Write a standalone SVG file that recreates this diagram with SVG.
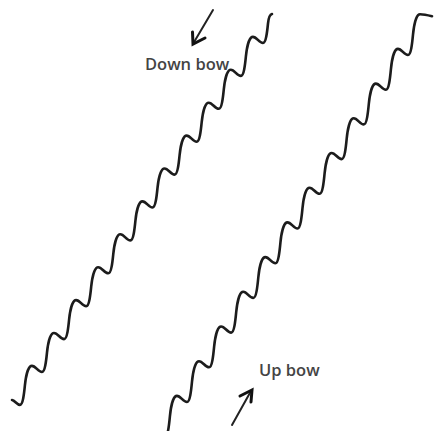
<svg xmlns="http://www.w3.org/2000/svg" width="437" height="431" viewBox="0 0 437 431">
<style>
.wave{fill:none;stroke:#1c1c1c;stroke-width:2.6;stroke-linecap:round;stroke-linejoin:round}
.shaft{fill:none;stroke:#222;stroke-width:2;stroke-linecap:round}
.head{fill:none;stroke:#111;stroke-width:3;stroke-linecap:round;stroke-linejoin:miter}
.lbl{font-family:"Open Sans","Liberation Sans",sans-serif;font-size:16.5px;font-weight:600;fill:#444}
</style>
<rect width="437" height="431" fill="#fff"/>
<g id="down-bow-string">
<path class="wave" d="M 12,400 C 15,400.5 17,404.9 19.9,404.9 c 3,0 4.2,-11.5 5,-19.5 c 0.8,-8 3,-19.5 7,-19.5 c 4,0 6,6.1 10.1,6.1 c 3,0 4.2,-11.5 5,-19.5 c 0.8,-8 3,-19.5 7,-19.5 c 4,0 6,6.1 10.1,6.1 c 3,0 4.2,-11.5 5,-19.5 c 0.8,-8 3,-19.5 7,-19.5 c 4,0 6,6.1 10.1,6.1 c 3,0 4.2,-11.5 5,-19.5 c 0.8,-8 3,-19.5 7,-19.5 c 4,0 6,6.1 10.1,6.1 c 3,0 4.2,-11.5 5,-19.5 c 0.8,-8 3,-19.5 7,-19.5 c 4,0 6,6.1 10.1,6.1 c 3,0 4.2,-11.5 5,-19.5 c 0.8,-8 3,-19.5 7,-19.5 c 4,0 6,6.1 10.1,6.1 c 3,0 4.2,-11.5 5,-19.5 c 0.8,-8 3,-19.5 7,-19.5 c 4,0 6,6.1 10.1,6.1 c 3,0 4.2,-11.5 5,-19.5 c 0.8,-8 3,-19.5 7,-19.5 c 4,0 6,6.1 10.1,6.1 c 3,0 4.2,-11.5 5,-19.5 c 0.8,-8 3,-19.5 7,-19.5 c 4,0 6,6.1 10.1,6.1 c 3,0 4.2,-11.5 5,-19.5 c 0.8,-8 3,-19.5 7,-19.5 c 4,0 6,6.1 10.1,6.1 c 3,0 4.2,-11.5 5,-19.5 c 0.8,-8 3,-19.5 7,-19.5 c 4,0 6,6.1 10.1,6.1 c 3,0 4.2,-11.5 5,-19.5 c 0.6,-6 2,-9 4,-9.5"/>
</g>
<g id="up-bow-string">
<path class="wave" d="M 164.9,436.7 c 3,0 4.2,-12 5,-20.4 c 0.8,-8.4 3,-20.4 7,-20.4 c 4,0 6,6.1 10.1,6.1 c 3,0 4.2,-12 5,-20.4 c 0.8,-8.4 3,-20.4 7,-20.4 c 4,0 6,6.1 10.1,6.1 c 3,0 4.2,-12 5,-20.4 c 0.8,-8.4 3,-20.4 7,-20.4 c 4,0 6,6.1 10.1,6.1 c 3,0 4.2,-12 5,-20.4 c 0.8,-8.4 3,-20.4 7,-20.4 c 4,0 6,6.1 10.1,6.1 c 3,0 4.2,-12 5,-20.4 c 0.8,-8.4 3,-20.4 7,-20.4 c 4,0 6,6.1 10.1,6.1 c 3,0 4.2,-12 5,-20.4 c 0.8,-8.4 3,-20.4 7,-20.4 c 4,0 6,6.1 10.1,6.1 c 3,0 4.2,-12 5,-20.4 c 0.8,-8.4 3,-20.4 7,-20.4 c 4,0 6,6.1 10.1,6.1 c 3,0 4.2,-12 5,-20.4 c 0.8,-8.4 3,-20.4 7,-20.4 c 4,0 6,6.1 10.1,6.1 c 3,0 4.2,-12 5,-20.4 c 0.8,-8.4 3,-20.4 7,-20.4 c 4,0 6,6.1 10.1,6.1 c 3,0 4.2,-12 5,-20.4 c 0.8,-8.4 3,-20.4 7,-20.4 c 4,0 6,6.1 10.1,6.1 c 3,0 4.2,-12 5,-20.4 c 0.8,-8.4 3,-20.4 7,-20.4 c 4,0 6,6.1 10.1,6.1 c 3,0 4.2,-12 5,-20.4 c 0.8,-8.4 3,-20.4 7,-20.4 c 4,0 8,1 12,2"/>
</g>
<g id="down-bow-label">
<line class="shaft" x1="213" y1="10" x2="193.5" y2="43"/>
<polyline class="head" points="192.5,32 193,44 205,38"/>
<text class="lbl" x="145" y="70">Down bow</text>
</g>
<g id="up-bow-label">
<line class="shaft" x1="232" y1="425" x2="251" y2="391"/>
<polyline class="head" points="240,396 252,390 251,402"/>
<text class="lbl" x="259" y="376">Up bow</text>
</g>
</svg>
